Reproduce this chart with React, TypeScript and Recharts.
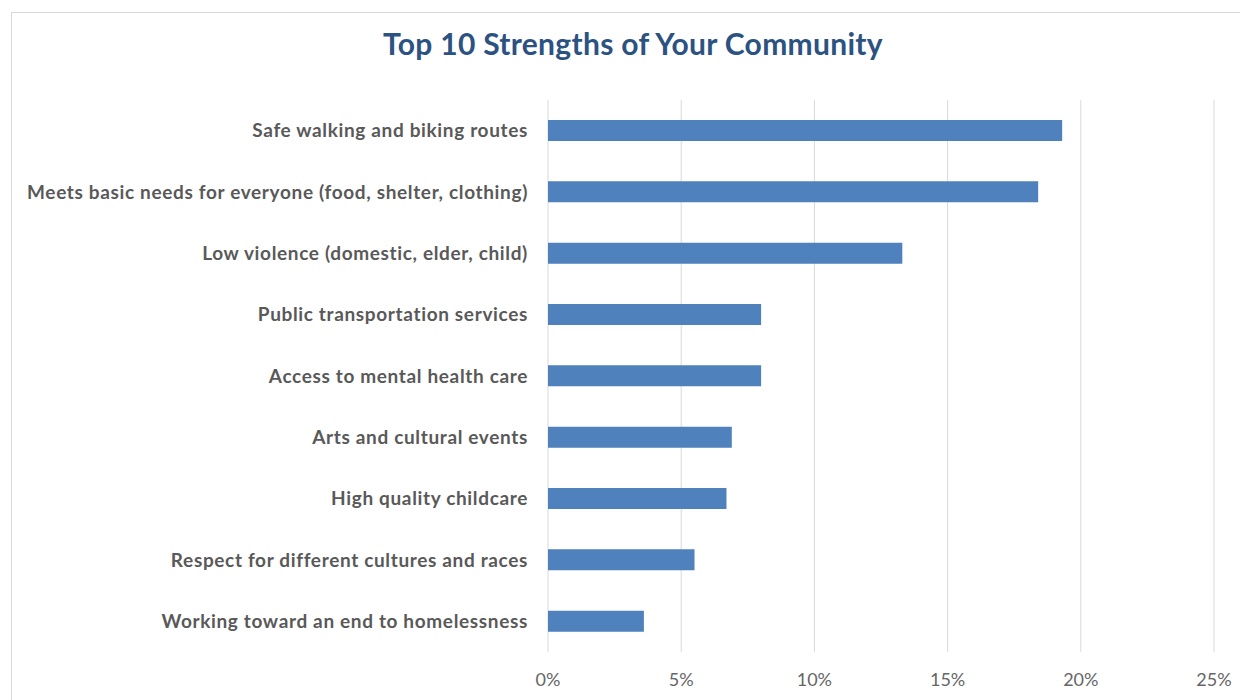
import { BarChart, Bar, XAxis, YAxis, CartesianGrid } from "recharts"

// survey categories, top to bottom
const categories = [
  "Safe walking and biking routes",
  "Meets basic needs for everyone (food, shelter, clothing)",
  "Low violence (domestic, elder, child)",
  "Public transportation services",
  "Access to mental health care",
  "Arts and cultural events",
  "High quality childcare",
  "Respect for different cultures and races",
  "Working toward an end to homelessness",
]

// share of responses, in percent
const shares = [19.3, 18.4, 13.3, 8.0, 8.0, 6.9, 6.7, 5.5, 3.6]

const xTicks = [0, 5, 10, 15, 20, 25]

const chartData = categories.map((name, i) => ({ name, value: shares[i] }))

function App() {
  return (
    <div style={{ position: "relative", width: 1240, height: 692, overflow: "hidden", background: "#fff", fontFamily: "Lato, sans-serif" }}>
      <div style={{ position: "absolute", left: 3, top: 4, width: 1300, height: 800, border: "1px solid #d9d9d9" }} />
      <div
        style={{
          position: "absolute",
          top: 17,
          left: 0,
          width: 1250,
          textAlign: "center",
          fontSize: 30,
          fontWeight: 700,
          color: "#2c5282",
          letterSpacing: 0.3,
        }}
      >
        Top 10 Strengths of Your Community
      </div>
      <div style={{ position: "absolute", left: 0, top: 0 }}>
        <BarChart
          width={1240}
          height={692}
          data={chartData}
          layout="vertical"
          margin={{ top: 92, right: 34, bottom: 0, left: 0 }}
        >
          <CartesianGrid horizontal={false} stroke="#d9d9d9" />
          <XAxis
            type="number"
            domain={[0, 25]}
            ticks={xTicks}
            tickFormatter={(v: number) => `${v}%`}
            axisLine={false}
            tickLine={false}
            tickSize={0}
            tickMargin={21}
            height={48}
            tick={{ fill: "#666666", fontSize: 18 }}
          />
          <YAxis
            type="category"
            dataKey="name"
            width={540}
            axisLine={false}
            tickLine={false}
            tickSize={0}
            tickMargin={20}
            interval={0}
            tick={{ fill: "#595959", fontSize: 19, fontWeight: 700, letterSpacing: 0.65 }}
          />
          <Bar dataKey="value" fill="#4f81bd" barSize={21} isAnimationActive={false} />
        </BarChart>
      </div>
    </div>
  )
}

export default App
